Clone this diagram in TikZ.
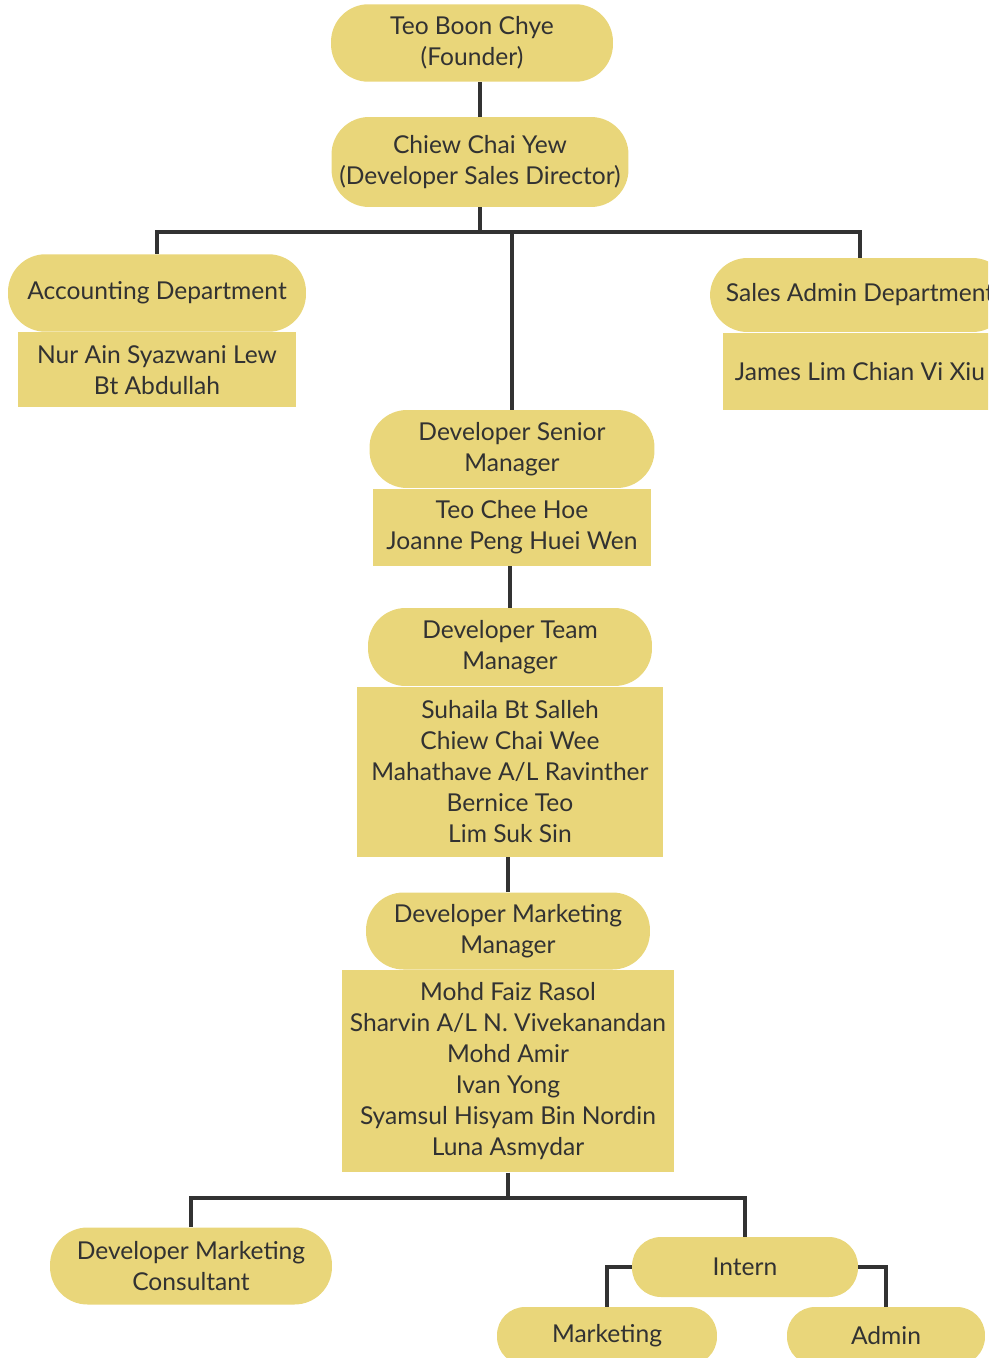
\documentclass[tikz,border=0pt]{standalone}
\usepackage{fontspec}
\setmainfont{Lato}
\usetikzlibrary{positioning}
\definecolor{chartyellow}{RGB}{233,214,122}
\definecolor{linkgrey}{RGB}{50,50,50}
\newcommand{\chartfont}{\fontsize{14}{17.6}\selectfont}
\tikzset{
  pill/.style={fill=chartyellow, text=linkgrey, rounded corners=0.75cm, align=center,
    minimum height=1.55cm, inner sep=2pt, font=\chartfont},
  namebox/.style={fill=chartyellow, text=linkgrey, align=center, inner sep=2pt, font=\chartfont},
  link/.style={draw=linkgrey, line width=2.8pt},
}

\begin{document}
\begin{tikzpicture}[x=0.02cm, y=-0.02cm]
    \useasboundingbox (0,0) rectangle (988,1358);
    \clip (0,0) rectangle (988,1358);

    % top of the chart
    \node[pill, minimum width=5.64cm] (founder) at (472,43) {Teo Boon Chye\\(Founder)};
    \node[pill, minimum width=5.94cm, minimum height=1.8cm] (director) at (480,162) {Chiew Chai Yew\\(Developer Sales Director)};

    % departments
    \node[pill, minimum width=5.96cm] (acct) at (157,293) {Accounting Department};
    \node[namebox, below=0pt of acct, minimum width=5.56cm, minimum height=1.5cm] (acctstaff) {Nur Ain Syazwani Lew\\Bt Abdullah};
    \node[pill, minimum width=6cm, minimum height=1.48cm] (salesadmin) at (860,295) {Sales Admin Department};
    \node[namebox, below=0pt of salesadmin, minimum width=5.5cm, minimum height=1.54cm] (salesstaff) {James Lim Chian Vi Xiu};

    % managers
    \node[pill, minimum width=5.7cm, minimum height=1.56cm] (seniorpill) at (512,449) {Developer Senior\\Manager};
    \node[namebox, below=0pt of seniorpill, minimum width=5.56cm, minimum height=1.54cm] (seniorstaff) {Teo Chee Hoe\\Joanne Peng Huei Wen};
    \node[pill, minimum width=5.68cm, minimum height=1.56cm] (teampill) at (510,647) {Developer Team\\Manager};
    \node[namebox, below=0pt of teampill, minimum width=6.14cm, minimum height=3.4cm] (teamstaff) {Suhaila Bt Salleh\\Chiew Chai Wee\\Mahathave A/L Ravinther\\Bernice Teo\\Lim Suk Sin};
    \node[pill, minimum width=5.68cm, minimum height=1.54cm] (mktpill) at (508,931) {Developer Marketing\\Manager};
    \node[namebox, below=0pt of mktpill, minimum width=6.66cm, minimum height=4.04cm] (mktstaff) {Mohd Faiz Rasol\\Sharvin A/L N. Vivekanandan\\Mohd Amir\\Ivan Yong\\Syamsul Hisyam Bin Nordin\\Luna Asmydar};

    % bottom row
    \node[pill, minimum width=5.64cm, minimum height=1.54cm] (consult) at (191,1266) {Developer Marketing\\Consultant};
    \node[pill, minimum width=4.52cm, minimum height=1.2cm, rounded corners=0.58cm] (intern) at (745,1267) {Intern};
    \node[pill, minimum width=4.4cm, minimum height=1.16cm, rounded corners=0.56cm] (marketing) at (607,1336) {Marketing};
    \node[pill, minimum width=3.96cm, minimum height=1.16cm, rounded corners=0.56cm] (admin) at (886,1336) {Admin};

    % connectors
    \coordinate (topbus) at (485,232);
    \coordinate (lowbus) at (500,1198);
    \draw[link] (director.north) -- (director.north |- founder.south);
    \draw[link] (director.south) -- (director.south |- topbus);
    \draw[link] (acct.north) |- (topbus) -| (salesadmin.north);
    \draw[link] (topbus -| seniorpill.north) -- (seniorpill.north);
    \draw[link] (teampill.north) -- (teampill.north |- seniorstaff.south);
    \draw[link] (mktpill.north) -- (mktpill.north |- teamstaff.south);
    \draw[link] (mktstaff.south) -- (mktstaff.south |- lowbus);
    \draw[link] (consult.north) |- (lowbus) -| (intern.north);
    \draw[link] (intern.west) -| (marketing.north);
    \draw[link] (intern.east) -| (admin.north);
\end{tikzpicture}
\end{document}
